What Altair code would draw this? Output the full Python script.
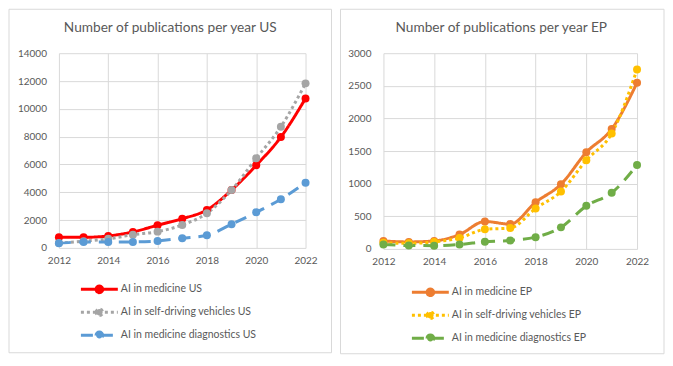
import altair as alt
import pandas as pd

years = [2012, 2013, 2014, 2015, 2016, 2017, 2018, 2019, 2020, 2021, 2022]

us_medicine = [770, 760, 860, 1150, 1630, 2100, 2730, 4160, 5940, 7970, 10750]
us_selfdriving = [350, 480, 650, 950, 1170, 1650, 2490, 4160, 6440, 8710, 11830]
us_diagnostics = [330, 430, 430, 430, 500, 700, 910, 1700, 2560, 3500, 4690]

ep_medicine = [122, 107, 122, 220, 420, 380, 715, 990, 1480, 1837, 2546]
ep_selfdriving = [95, 85, 107, 168, 300, 320, 620, 880, 1360, 1770, 2750]
ep_diagnostics = [67, 52, 50, 67, 110, 130, 180, 330, 660, 860, 1285]

us_series = ["AI in medicine US", "AI in self-driving vehicles US", "AI in medicine diagnostics US"]
ep_series = ["AI in medicine EP", "AI in self-driving vehicles EP", "AI in medicine diagnostics EP"]

us_colors = ["#FF0000", "#A5A5A5", "#5B9BD5"]
ep_colors = ["#ED7D31", "#FFC000", "#70AD47"]
dashes = [[1, 0], [3, 3], [12, 8]]

x_ticks = [2012, 2014, 2016, 2018, 2020, 2022]
us_y_ticks = [0, 2000, 4000, 6000, 8000, 10000, 12000, 14000]
ep_y_ticks = [0, 500, 1000, 1500, 2000, 2500, 3000]

us_title = "Number of publications per year US"
ep_title = "Number of publications per year EP"

FONT = "Lato"
GREY = "#595959"
GRID = "#d9d9d9"
SYMBOL = "M-3.08,0H3.08M-0.55,0A0.55,0.55,0,1,1,0.55,0A0.55,0.55,0,1,1,-0.55,0Z"


def long_df(names, values):
    rows = []
    for name, vals in zip(names, values):
        for yr, v in zip(years, vals):
            rows.append({"year": yr, "value": v, "series": name})
    return pd.DataFrame(rows)


def panel(title, names, values, colors, yticks, width, height, frame, legend_xy, title_dx):
    df = long_df(names, values)
    legend = alt.Legend(
        orient="none",
        legendX=legend_xy[0],
        legendY=legend_xy[1],
        direction="vertical",
        title=None,
        symbolType=SYMBOL,
        symbolSize=144,
        symbolStrokeWidth=3,
        labelFont=FONT,
        labelFontSize=10.5,
        labelColor=GREY,
        labelOffset=14,
        labelLimit=300,
        rowPadding=4,
        padding=0,
    )
    x = alt.X(
        "year:Q",
        title=None,
        scale=alt.Scale(domain=[years[0], years[-1]], nice=False, zero=False),
        axis=alt.Axis(values=x_ticks, format="d", labelFlush=False, labelPadding=8),
    )
    y = alt.Y(
        "value:Q",
        title=None,
        scale=alt.Scale(domain=[yticks[0], yticks[-1]], nice=False),
        axis=alt.Axis(values=yticks, format="d", labelPadding=12.5),
    )
    base = alt.Chart(df)
    lines = base.mark_line(strokeWidth=3, interpolate="monotone").encode(
        x=x,
        y=y,
        stroke=alt.Stroke("series:N", scale=alt.Scale(domain=names, range=colors), legend=legend),
        strokeDash=alt.StrokeDash("series:N", scale=alt.Scale(domain=names, range=dashes), legend=legend),
    )
    points = base.mark_point(filled=True, shape="circle", size=64, opacity=1).encode(
        x=x,
        y=y,
        fill=alt.Fill("series:N", scale=alt.Scale(domain=names, range=colors), legend=legend),
    )
    box = alt.Chart(alt.Data(values=[{"frame": 1}])).mark_rect(
        fill="transparent", stroke=GRID, strokeWidth=1
    ).encode(
        x=alt.value(frame[0]),
        x2=alt.value(width + frame[1]),
        y=alt.value(frame[2]),
        y2=alt.value(height + frame[3]),
    )
    return alt.layer(box, lines, points).properties(
        width=width,
        height=height,
        title=alt.TitleParams(
            text=title,
            font=FONT,
            fontSize=13.7,
            fontWeight="normal",
            color=GREY,
            anchor="middle",
            frame="group",
            baseline="middle",
            offset=-33,
            dx=title_dx,
        ),
    )


left = panel(us_title, us_series, [us_medicine, us_selfdriving, us_diagnostics], us_colors,
             us_y_ticks, 247, 195, (-50, 26, -44, 105), (33, 229), -12)
right = panel(ep_title, ep_series, [ep_medicine, ep_selfdriving, ep_diagnostics], ep_colors,
              ep_y_ticks, 254, 196, (-43, 27, -44, 105), (39.5, 232), -9)

chart = alt.hconcat(left, right, spacing=7).properties(padding=0).resolve_scale(
    stroke="independent", strokeDash="independent", fill="independent"
).resolve_legend(
    stroke="independent", strokeDash="independent", fill="independent"
).configure_view(
    stroke="transparent"
).configure_axis(
    ticks=False,
    domain=False,
    grid=True,
    gridColor=GRID,
    gridWidth=1,
    labelColor=GREY,
    labelFont=FONT,
    labelFontSize=10,
).configure_legend(
    labelFont=FONT,
)

chart.save("out.html", embed_options={"renderer": "svg", "actions": False})
